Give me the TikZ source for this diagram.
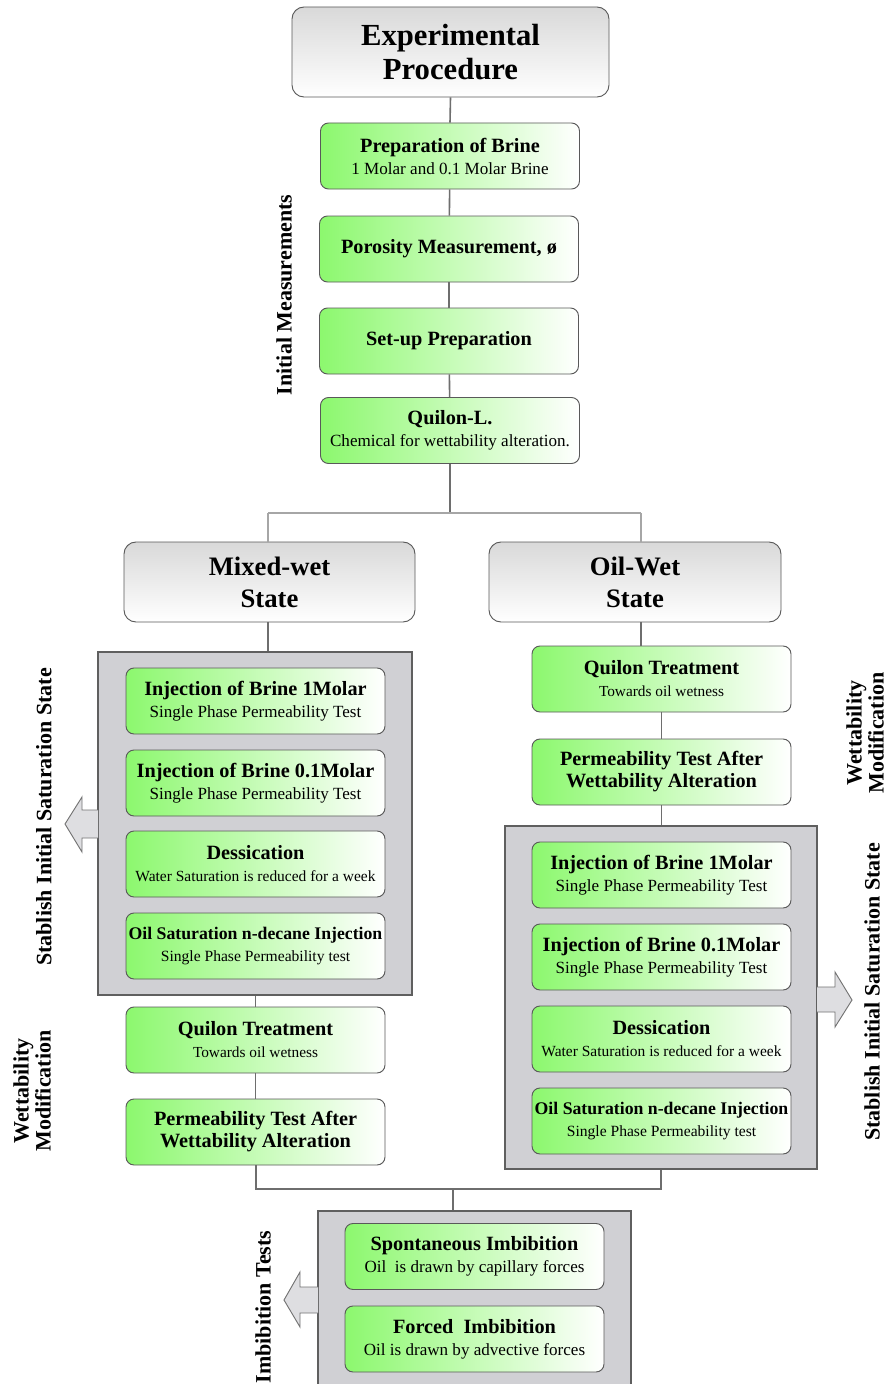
\documentclass[tikz,border=0pt]{standalone}
\usepackage{fontspec}
\setmainfont{Liberation Serif}
\definecolor{grn}{RGB}{140,248,110}
\definecolor{panelfill}{RGB}{208,208,212}
\definecolor{panelline}{RGB}{95,95,95}
\definecolor{connc}{RGB}{110,110,110}
\definecolor{arrowfill}{RGB}{222,222,225}
\newcommand{\bxtitle}[1]{{\fontsize{15.2}{16}\selectfont\bfseries #1}}
\newcommand{\bxsub}[2][12.8]{{\fontsize{#1}{16}\selectfont #2}}
\begin{document}
\begin{tikzpicture}[x=0.75pt,y=-0.75pt,
  greenbox/.style={draw=black!65, line width=0.7pt, rounded corners=6pt, left color=grn, right color=white, minimum width=194.25pt, minimum height=49.5pt, align=center, inner sep=0.5pt, font=\fontsize{12}{16.5}\selectfont},
  headbox/.style={draw=black!65, line width=0.7pt, rounded corners=9pt, top color=black!15, bottom color=white, align=center, inner sep=1pt},
  panel/.style={draw=panelline, line width=1pt, fill=panelfill, inner sep=0pt},
  connector/.style={draw=connc, line width=1.2pt},
  sidelabel/.style={rotate=90, align=center, inner sep=0pt, font=\fontsize{16.5}{16.5}\selectfont\bfseries},
  blockarrow/.style={draw=black!55, fill=arrowfill, line width=0.7pt}
]
\clip (0,0) rectangle (888,1384);
\fill[white] (0,0) rectangle (888,1384);

% panels
\node[panel, minimum width=235.5pt, minimum height=257.25pt] (lpanel) at (255,823.5) {};
\node[panel, minimum width=234pt, minimum height=257.25pt] (rpanel) at (661,997.5) {};
\node[panel, minimum width=234.75pt, minimum height=141pt] (bpanel) at (474.5,1305) {};

% block arrows
\draw[blockarrow] (98,810) -- (82,810) -- (82,797) -- (65,824) -- (82,852) -- (82,838) -- (98,838);
\draw[blockarrow] (817,987) -- (835,987) -- (835,972) -- (852,1000) -- (835,1027) -- (835,1012) -- (817,1012);
\draw[blockarrow] (318,1287) -- (300,1287) -- (300,1272) -- (284,1300) -- (300,1327) -- (300,1313) -- (318,1313);

% header
\node[headbox, minimum width=237.75pt, minimum height=67.5pt, font=\fontsize{23}{26}\selectfont\bfseries] (head) at (450.5,52) {Experimental\\Procedure};

% initial measurements
\node[greenbox] (prep) at (450,156) {\bxtitle{Preparation of Brine}\\\bxsub{1 Molar and 0.1 Molar Brine}};
\node[greenbox] (poros) at (449,249) {\bxtitle{Porosity Measurement, ø}};
\node[greenbox] (setup) at (449,341) {\bxtitle{Set-up Preparation}};
\node[greenbox] (quilonL) at (450,430.5) {\bxtitle{Quilon-L.}\\\bxsub{Chemical for wettability alteration.}};

% states
\node[headbox, minimum width=218.25pt, minimum height=60pt, font=\fontsize{20}{24}\selectfont\bfseries] (mixed) at (269.5,582) {Mixed-wet\\State};
\node[headbox, minimum width=219pt, minimum height=60pt, font=\fontsize{20}{24}\selectfont\bfseries] (oilwet) at (635,582) {Oil-Wet\\State};

% mixed-wet column
\node[greenbox] (ia1) at (255.5,701) {\bxtitle{Injection of Brine 1Molar}\\\bxsub{Single Phase Permeability Test}};
\node[greenbox] (ia2) at (255.5,783) {\bxtitle{Injection of Brine 0.1Molar}\\\bxsub{Single Phase Permeability Test}};
\node[greenbox] (ia3) at (255.5,864) {\bxtitle{Dessication}\\\bxsub[11.6]{Water Saturation is reduced for a week}};
\node[greenbox] (ia4) at (255.5,946) {{\fontsize{13.3}{16}\selectfont\bfseries Oil Saturation n-decane Injection}\\\bxsub[11.7]{Single Phase Permeability test}};
\node[greenbox] (quilonA) at (255.5,1040) {\bxtitle{Quilon Treatment}\\\bxsub[11.5]{Towards oil wetness}};
\node[greenbox] (permA) at (255.5,1132) {\bxtitle{Permeability Test After}\\\bxtitle{Wettability Alteration}};

% oil-wet column
\node[greenbox] (quilonB) at (661.5,679) {\bxtitle{Quilon Treatment}\\\bxsub[11.5]{Towards oil wetness}};
\node[greenbox] (permB) at (661.5,772) {\bxtitle{Permeability Test After}\\\bxtitle{Wettability Alteration}};
\node[greenbox] (ib1) at (661.5,875) {\bxtitle{Injection of Brine 1Molar}\\\bxsub{Single Phase Permeability Test}};
\node[greenbox] (ib2) at (661.5,957) {\bxtitle{Injection of Brine 0.1Molar}\\\bxsub{Single Phase Permeability Test}};
\node[greenbox] (ib3) at (661.5,1039) {\bxtitle{Dessication}\\\bxsub[11.6]{Water Saturation is reduced for a week}};
\node[greenbox] (ib4) at (661.5,1121) {{\fontsize{13.3}{16}\selectfont\bfseries Oil Saturation n-decane Injection}\\\bxsub[11.7]{Single Phase Permeability test}};

% imbibition
\node[greenbox] (spont) at (474.5,1256.5) {\bxtitle{Spontaneous Imbibition}\\\bxsub{Oil\ \ is drawn by capillary forces}};
\node[greenbox] (forced) at (474.5,1339) {\bxtitle{Forced\ \ Imbibition}\\\bxsub{Oil is drawn by advective forces}};

% side labels
\node[sidelabel] (lInit) at (284,295) {Initial Measurements};
\node[sidelabel] (lSatL) at (44,817) {Stablish Initial Saturation State};
\node[sidelabel] (lWetL) at (32,1091) {Wettability\\Modification};
\node[sidelabel] (lWetR) at (865,733) {Wettability\\Modification};
\node[sidelabel] (lSatR) at (872,992) {Stablish Initial Saturation State};
\node[sidelabel] (lImb) at (263,1307) {Imbibition Tests};

% connectors
\coordinate (barL) at (268,513);
\coordinate (barR) at (641,513);
\coordinate (barM) at (450,513);
\coordinate (lowL) at (256,1189);
\coordinate (lowR) at (661,1189);
\coordinate (lowM) at (453,1189);
\draw[connector] (head.south) -- (prep.north);
\draw[connector] (prep) -- (poros);
\draw[connector] (poros) -- (setup);
\draw[connector] (setup) -- (quilonL);
\draw[connector] (quilonL.south) -- (barM);
\draw[connector, draw=black!35] (barL) -- (barR);
\draw[connector, draw=black!35] (barL) -- (barL |- mixed.north);
\draw[connector, draw=black!35] (barR) -- (barR |- oilwet.north);
\draw[connector] (mixed.south -| barL) -- (barL |- lpanel.north);
\draw[connector] (lpanel.south -| quilonA) -- (quilonA.north);
\draw[connector] (quilonA) -- (permA);
\draw[connector] (permA.south -| lowL) -- (lowL) -- (lowR) -- (rpanel.south -| lowR);
\draw[connector] (lowM) -- (lowM |- bpanel.north);
\draw[connector] (oilwet.south -| barR) -- (barR |- quilonB.north);
\draw[connector] (quilonB) -- (permB);
\draw[connector] (permB.south) -- (rpanel.north -| permB);
\end{tikzpicture}
\end{document}
